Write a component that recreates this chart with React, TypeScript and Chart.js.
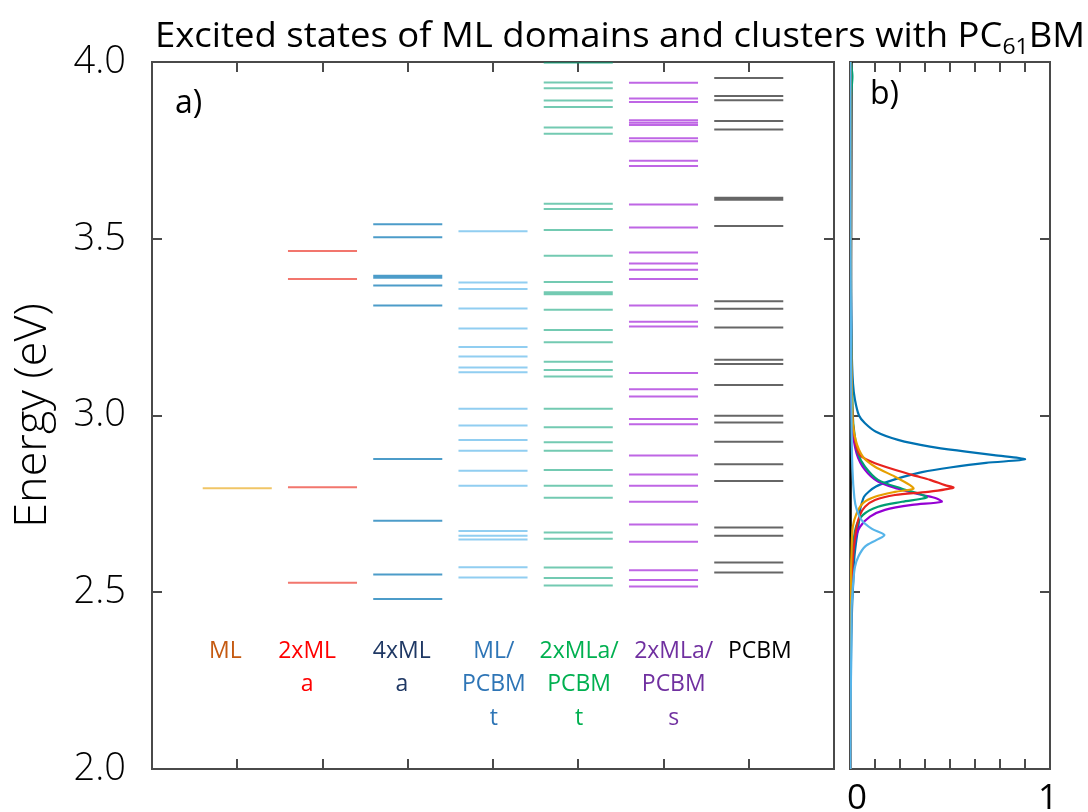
import React, { useEffect, useRef } from 'react';
import { Chart, registerables } from 'chart.js';
Chart.register(...registerables);

const FONT = '"Open Sans", "Noto Sans", "DejaVu Sans", sans-serif';

// ---- panel a) data: excitation energies (eV) per system ----
const categoryLabels: string[][] = [
  ['ML'],
  ['2xML', 'a'],
  ['4xML', 'a'],
  ['ML/', 'PCBM', 't'],
  ['2xMLa/', 'PCBM', 't'],
  ['2xMLa/', 'PCBM', 's'],
  ['PCBM'],
];
const labelTextColors = ['#c55a11', '#ff0000', '#1f3864', '#2e75b6', '#00b050', '#7030a0', '#000000'];
const labelPositions = [0.86, 1.82, 2.93, 4.01, 5.01, 6.12, 7.13];

const levelsML = [2.794];
const levels2xMLa = [2.527, 2.797, 3.386, 3.465];
const levels4xMLa = [2.481, 2.55, 2.702, 2.877, 3.311, 3.368, 3.39, 3.395, 3.504, 3.541];
const levelsMLPCBMt = [2.542, 2.571, 2.649, 2.66, 2.673, 2.801, 2.844, 2.9, 2.931, 2.972, 3.019, 3.122, 3.136, 3.167, 3.194, 3.246, 3.303, 3.358, 3.376, 3.521];
const levels2xMLaPCBMt = [2.519, 2.54, 2.57, 2.651, 2.669, 2.767, 2.801, 2.846, 2.9, 2.924, 2.967, 3.019, 3.11, 3.129, 3.152, 3.207, 3.242, 3.299, 3.343, 3.349, 3.378, 3.452, 3.525, 3.584, 3.599, 3.797, 3.815, 3.873, 3.891, 3.926, 3.942, 3.998];
const levels2xMLaPCBMs = [2.516, 2.535, 2.562, 2.643, 2.692, 2.756, 2.801, 2.833, 2.887, 2.975, 2.99, 3.054, 3.074, 3.12, 3.252, 3.265, 3.311, 3.386, 3.412, 3.43, 3.461, 3.532, 3.597, 3.706, 3.721, 3.776, 3.784, 3.822, 3.828, 3.835, 3.887, 3.897, 3.941];
const levelsPCBM = [2.556, 2.584, 2.66, 2.683, 2.815, 2.862, 2.926, 2.98, 2.999, 3.086, 3.146, 3.158, 3.249, 3.302, 3.323, 3.536, 3.61, 3.616, 3.809, 3.833, 3.892, 3.904, 3.955];

const levelColumns = [levelsML, levels2xMLa, levels4xMLa, levelsMLPCBMt, levels2xMLaPCBMt, levels2xMLaPCBMs, levelsPCBM];
const levelColors = [
  'rgba(230,159,0,0.6)',
  'rgba(235,45,30,0.65)',
  'rgba(0,114,178,0.7)',
  'rgba(86,180,233,0.65)',
  'rgba(0,158,115,0.55)',
  'rgba(148,0,211,0.6)',
  'rgba(0,0,0,0.6)',
];
const energyTicks = [2.0, 2.5, 3.0, 3.5, 4.0];

// ---- panel b) data: spectra (energy eV, normalised intensity) ----
const specBlueE = [2.0, 2.3, 2.45, 2.55, 2.6, 2.64, 2.68, 2.71, 2.733, 2.75, 2.77, 2.785, 2.799, 2.813, 2.827, 2.84, 2.853, 2.866, 2.876, 2.888, 2.898, 2.912, 2.931, 2.954, 2.978, 3.0, 3.044, 3.09, 3.2, 3.5, 4.0];
const specBlueI = [0.002, 0.005, 0.01, 0.018, 0.022, 0.03, 0.04, 0.047, 0.05, 0.058, 0.07, 0.095, 0.13, 0.19, 0.27, 0.36, 0.5, 0.68, 0.875, 0.72, 0.58, 0.4, 0.24, 0.13, 0.075, 0.045, 0.025, 0.015, 0.008, 0.004, 0.002];
const specRedE = [2.0, 2.4, 2.55, 2.62, 2.685, 2.719, 2.742, 2.761, 2.775, 2.784, 2.796, 2.803, 2.818, 2.832, 2.865, 2.888, 2.93, 3.0, 3.2, 4.0];
const specRedI = [0.001, 0.005, 0.01, 0.018, 0.033, 0.05, 0.075, 0.125, 0.225, 0.39, 0.517, 0.475, 0.4, 0.31, 0.125, 0.05, 0.025, 0.012, 0.005, 0.001];
const specOrangeE = [2.0, 2.5, 2.62, 2.685, 2.723, 2.752, 2.77, 2.784, 2.793, 2.803, 2.827, 2.855, 2.883, 2.931, 3.0, 3.3, 4.0];
const specOrangeI = [0.001, 0.004, 0.008, 0.014, 0.033, 0.065, 0.125, 0.225, 0.317, 0.3, 0.225, 0.125, 0.065, 0.028, 0.012, 0.004, 0.001];
const specGreenE = [2.0, 2.5, 2.62, 2.685, 2.719, 2.742, 2.756, 2.768, 2.778, 2.793, 2.818, 2.855, 2.893, 2.95, 3.0, 3.3, 3.9, 3.96, 4.0];
const specGreenI = [0.001, 0.006, 0.014, 0.03, 0.065, 0.14, 0.26, 0.383, 0.35, 0.26, 0.14, 0.075, 0.04, 0.022, 0.014, 0.005, 0.005, 0.012, 0.004];
const specPurpleE = [2.0, 2.5, 2.591, 2.648, 2.685, 2.714, 2.733, 2.747, 2.756, 2.766, 2.775, 2.793, 2.813, 2.846, 2.893, 2.968, 3.1, 4.0];
const specPurpleI = [0.001, 0.005, 0.009, 0.025, 0.05, 0.1, 0.175, 0.31, 0.458, 0.43, 0.36, 0.24, 0.14, 0.075, 0.033, 0.012, 0.006, 0.002];
const specLightBlueE = [2.0, 2.45, 2.535, 2.572, 2.601, 2.629, 2.648, 2.662, 2.68, 2.704, 2.735, 2.766, 2.85, 3.0, 3.5, 4.0];
const specLightBlueI = [0.002, 0.008, 0.017, 0.025, 0.042, 0.075, 0.133, 0.172, 0.108, 0.058, 0.033, 0.022, 0.012, 0.007, 0.003, 0.002];
const specBlackE = [2.0, 2.5, 3.0, 3.5, 4.0];
const specBlackI = [0.002, 0.003, 0.004, 0.006, 0.008];

const spectra = [
  { e: specLightBlueE, i: specLightBlueI, color: 'rgb(86,180,233)' },
  { e: specOrangeE, i: specOrangeI, color: 'rgb(230,159,0)' },
  { e: specRedE, i: specRedI, color: 'rgb(232,35,30)' },
  { e: specGreenE, i: specGreenI, color: 'rgb(0,158,115)' },
  { e: specPurpleE, i: specPurpleI, color: 'rgb(148,0,211)' },
  { e: specBlueE, i: specBlueI, color: 'rgb(0,114,178)' },
  { e: specBlackE, i: specBlackI, color: 'rgb(0,0,0)' },
];
const intensityMinorTicks = [0.125, 0.25, 0.375, 0.5, 0.625, 0.75, 0.875];
const intensityLabels = [0, 1];

const HALF = 0.405;
const FRAME = '#4a4a4a';
const TICK_LEN = 10;

function drawFrame(chart: any, xTicks: number[], yTicks: number[]) {
  const { ctx, chartArea } = chart;
  const xs = chart.scales.x;
  const ys = chart.scales.y;
  const { left, right, top, bottom } = chartArea;
  ctx.save();
  ctx.strokeStyle = FRAME;
  ctx.lineWidth = 2;
  ctx.strokeRect(left, top, right - left, bottom - top);
  ctx.beginPath();
  xTicks.forEach((v) => {
    const px = Math.round(xs.getPixelForValue(v));
    ctx.moveTo(px, top);
    ctx.lineTo(px, top + TICK_LEN);
    ctx.moveTo(px, bottom);
    ctx.lineTo(px, bottom - TICK_LEN);
  });
  yTicks.forEach((v) => {
    const py = Math.round(ys.getPixelForValue(v));
    ctx.moveTo(left, py);
    ctx.lineTo(left + TICK_LEN, py);
    ctx.moveTo(right, py);
    ctx.lineTo(right - TICK_LEN, py);
  });
  ctx.stroke();
  ctx.restore();
}

const leftDecor = {
  id: 'leftDecor',
  beforeDatasetsDraw(chart: any) {
    drawFrame(chart, [1, 2, 3, 4, 5, 6, 7], [2.5, 3.0, 3.5]);
  },
  afterDraw(chart: any) {
    const { ctx } = chart;
    const xs = chart.scales.x;
    ctx.save();
    ctx.fillStyle = '#000';
    ctx.textAlign = 'left';
    ctx.textBaseline = 'alphabetic';
    ctx.font = `32px ${FONT}`;
    ctx.fillText('a)', 175, 113);
    ctx.font = `23px ${FONT}`;
    ctx.textAlign = 'center';
    const baselines = [658, 691, 725];
    categoryLabels.forEach((lines, i) => {
      ctx.fillStyle = labelTextColors[i];
      const cx = xs.getPixelForValue(labelPositions[i]);
      lines.forEach((t, j) => ctx.fillText(t, cx, baselines[j]));
    });
    const main = 'Excited states of ML domains and clusters with PC';
    const sub = '61';
    const tail = 'BM';
    ctx.textAlign = 'left';
    ctx.fillStyle = '#000';
    ctx.font = `35px ${FONT}`;
    const w1 = ctx.measureText(main).width;
    const w3 = ctx.measureText(tail).width;
    ctx.font = `22px ${FONT}`;
    const w2 = ctx.measureText(sub).width;
    const sx = 930 / (w1 + w2 + w3);
    ctx.translate(155, 0);
    ctx.scale(sx, 1);
    ctx.font = `35px ${FONT}`;
    ctx.fillText(main, 0, 47);
    ctx.font = `22px ${FONT}`;
    ctx.fillText(sub, w1, 54);
    ctx.font = `35px ${FONT}`;
    ctx.fillText(tail, w1 + w2, 47);
    ctx.restore();
  },
};

const rightDecor = {
  id: 'rightDecor',
  beforeDatasetsDraw(chart: any) {
    drawFrame(chart, intensityMinorTicks, [2.5, 3.0, 3.5]);
  },
  afterDraw(chart: any) {
    const { ctx } = chart;
    const xs = chart.scales.x;
    ctx.save();
    ctx.fillStyle = '#000';
    ctx.textBaseline = 'alphabetic';
    ctx.textAlign = 'left';
    ctx.font = `32px ${FONT}`;
    ctx.fillText('b)', 870, 104);
    ctx.textAlign = 'center';
    ctx.font = `35px ${FONT}`;
    intensityLabels.forEach((v, k) => {
      const px = xs.getPixelForValue(v) + (k === 0 ? 7 : -2);
      ctx.fillText(String(v), px, 809);
    });
    ctx.restore();
  },
};

export default function App() {
  const leftRef = useRef<HTMLCanvasElement>(null);
  const rightRef = useRef<HTMLCanvasElement>(null);

  useEffect(() => {
    const levelDatasets = levelColumns.map((lv, i) => ({
      data: lv.flatMap((e) => [
        { x: i + 1 - HALF, y: e },
        { x: i + 1 + HALF, y: e },
        { x: i + 1, y: null },
      ]),
      showLine: true,
      spanGaps: false,
      borderColor: levelColors[i],
      borderWidth: 2,
      pointRadius: 0,
    }));

    const left = new Chart(leftRef.current as HTMLCanvasElement, {
      type: 'scatter',
      data: { datasets: levelDatasets as any },
      plugins: [leftDecor],
      options: {
        responsive: false,
        animation: false,
        devicePixelRatio: 1,
        events: [],
        layout: { autoPadding: false, padding: { left: 0, top: 62, right: 254, bottom: 43 } },
        plugins: { legend: { display: false }, tooltip: { enabled: false }, title: { display: false } },
        scales: {
          x: { type: 'linear', min: 0, max: 8, display: false },
          y: {
            type: 'linear',
            min: 2,
            max: 4,
            afterBuildTicks: (scale: any) => {
              scale.ticks = energyTicks.map((v) => ({ value: v }));
            },
            afterFit: (scale: any) => {
              scale.width = 152;
              scale.paddingTop = 0;
              scale.paddingBottom = 0;
            },
            grid: { display: false, drawTicks: false },
            border: { display: false },
            ticks: {
              padding: 26,
              color: '#000',
              font: { family: FONT, size: 38, weight: '300' as any },
              callback: (v: any) => Number(v).toFixed(1),
            },
            title: {
              display: true,
              text: 'Energy (eV)',
              color: '#000',
              font: { family: FONT, size: 45, weight: '300' as any },
              padding: { top: 6, bottom: 0 },
            },
          },
        },
      } as any,
    });

    const specDatasets = spectra.map((s) => ({
      data: s.e.map((e, k) => ({ x: s.i[k], y: e })),
      showLine: true,
      borderColor: s.color,
      borderWidth: 2.2,
      pointRadius: 0,
      tension: 0.3,
    }));

    const right = new Chart(rightRef.current as HTMLCanvasElement, {
      type: 'scatter',
      data: { datasets: specDatasets as any },
      plugins: [rightDecor],
      options: {
        responsive: false,
        animation: false,
        devicePixelRatio: 1,
        events: [],
        layout: { autoPadding: false, padding: { left: 850, top: 62, right: 38, bottom: 43 } },
        plugins: { legend: { display: false }, tooltip: { enabled: false }, title: { display: false } },
        scales: {
          x: { type: 'linear', min: 0, max: 1, display: false },
          y: { type: 'linear', min: 2, max: 4, display: false },
        },
      } as any,
    });

    return () => {
      left.destroy();
      right.destroy();
    };
  }, []);

  return (
    <div style={{ position: 'absolute', left: 0, top: 0, width: 1088, height: 812, background: '#fff' }}>
      <canvas ref={leftRef} width={1088} height={812} style={{ position: 'absolute', left: 0, top: 0 }} />
      <canvas ref={rightRef} width={1088} height={812} style={{ position: 'absolute', left: 0, top: 0 }} />
    </div>
  );
}
